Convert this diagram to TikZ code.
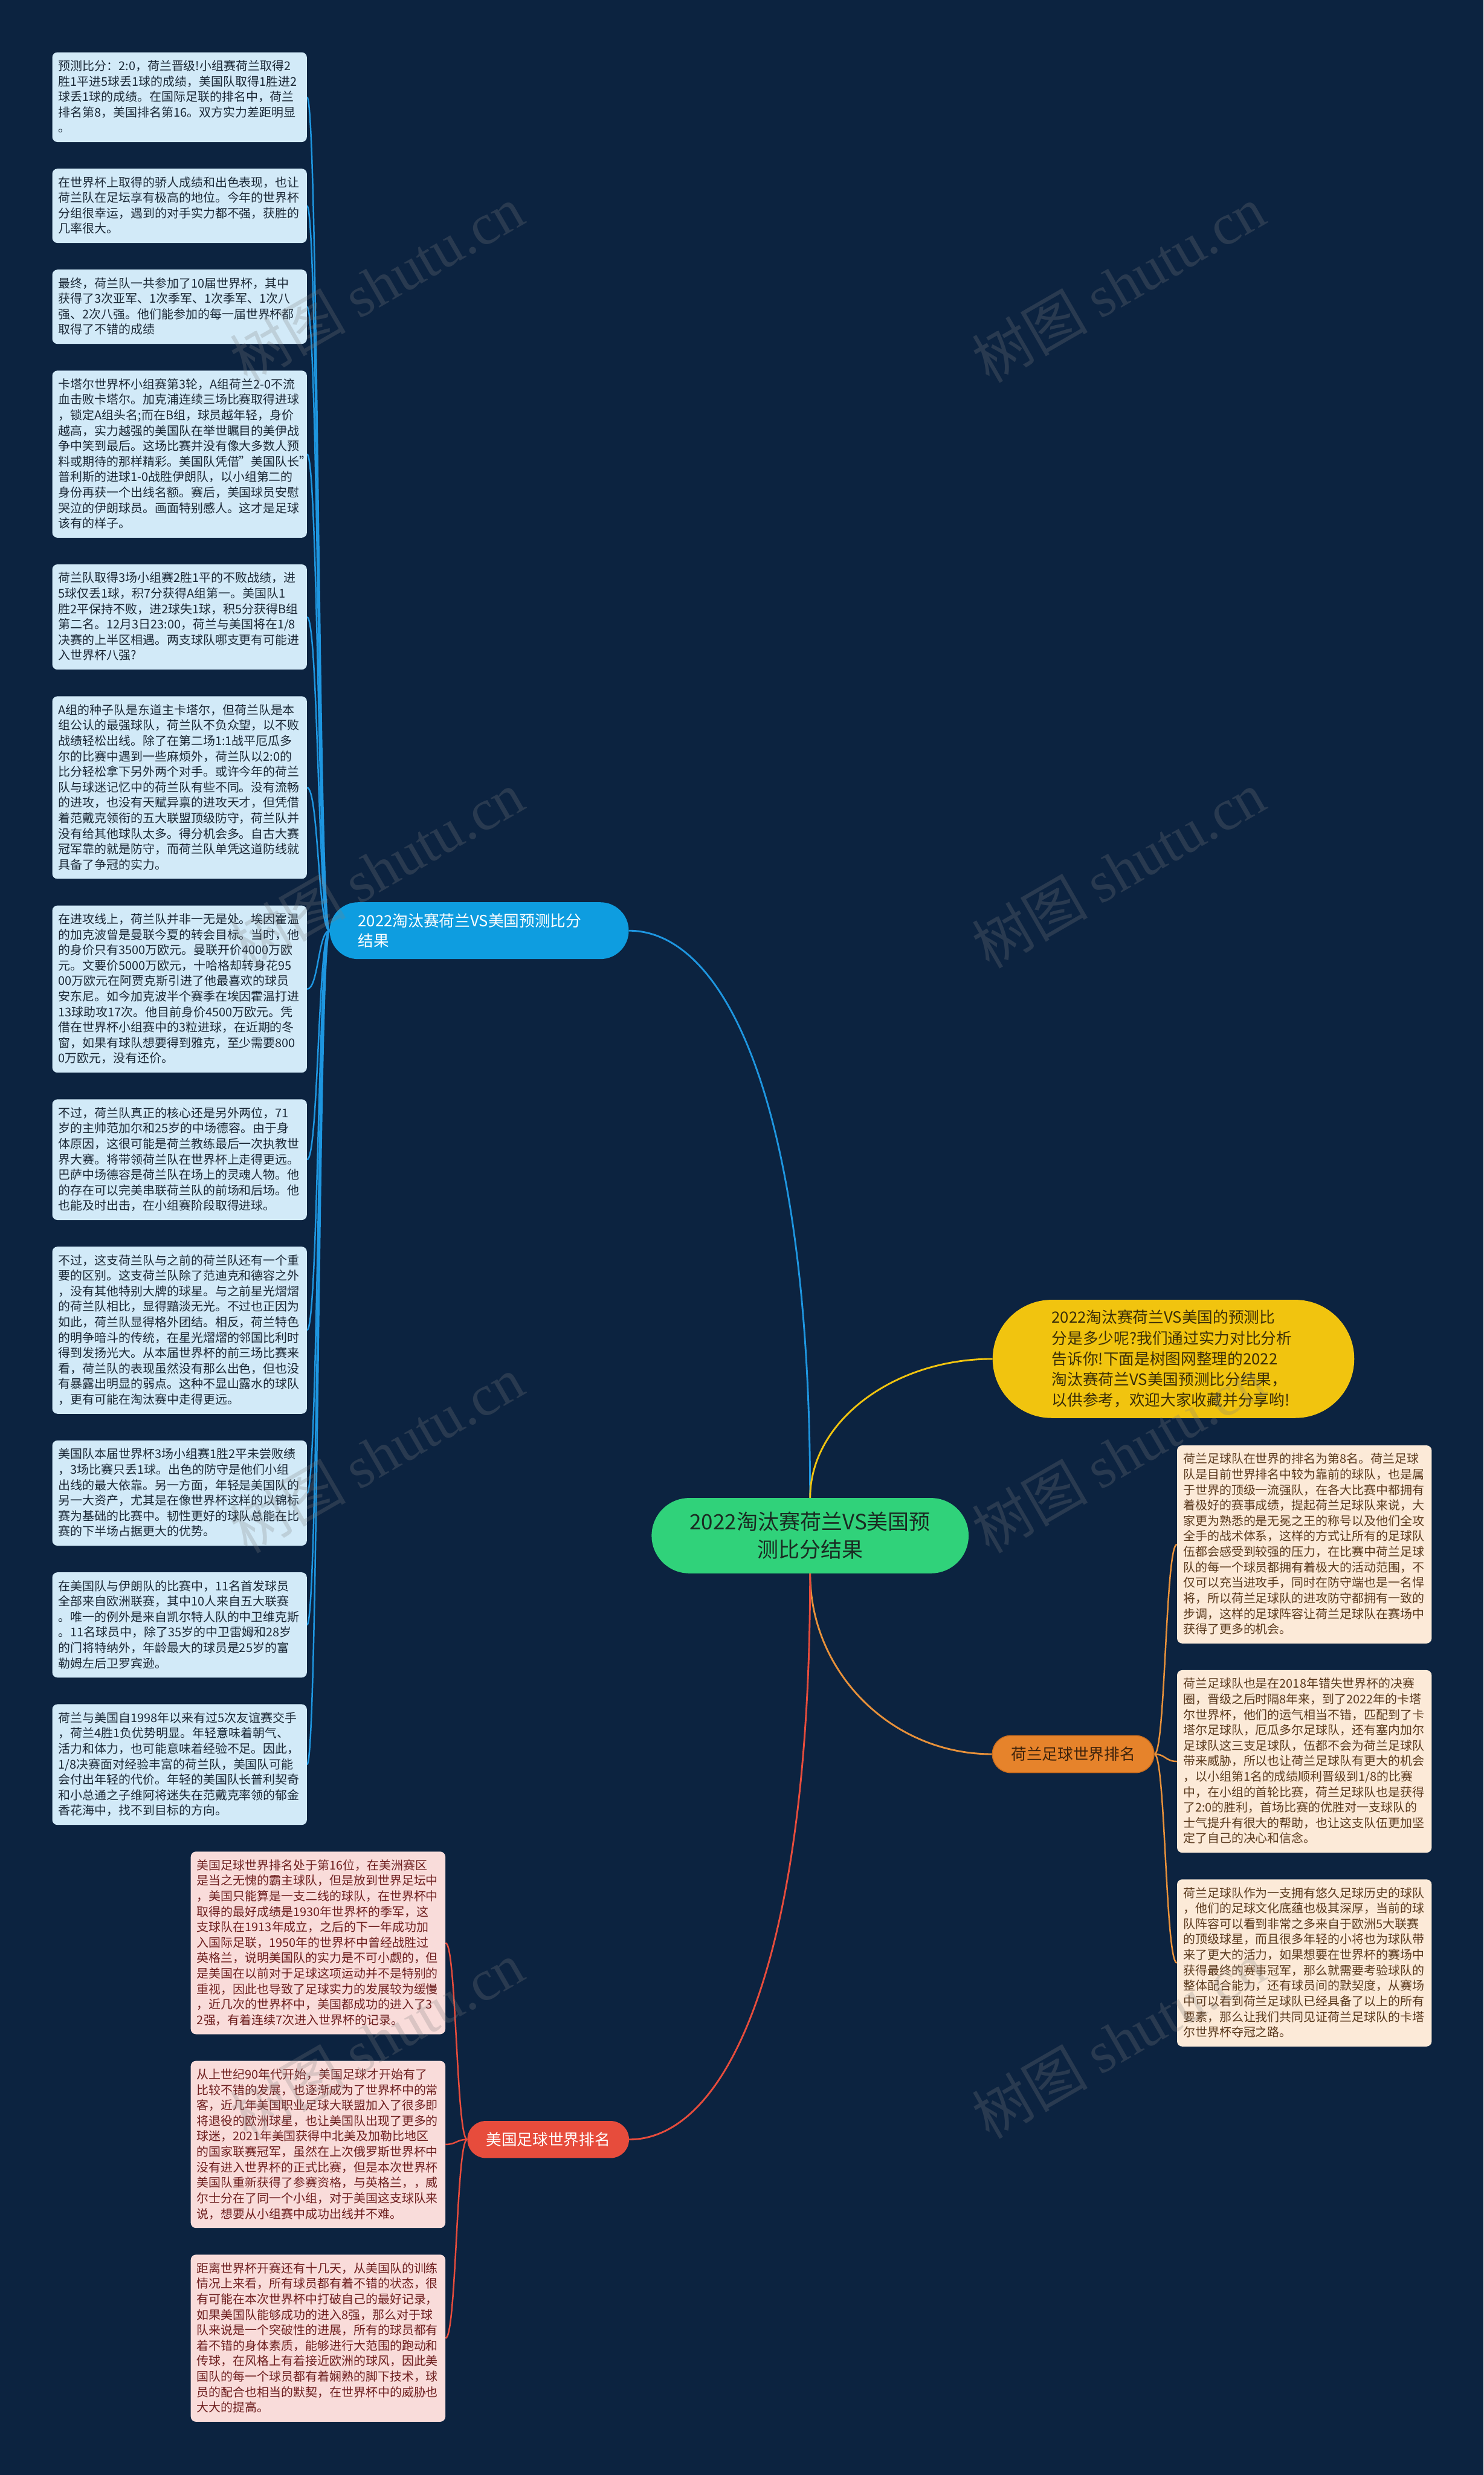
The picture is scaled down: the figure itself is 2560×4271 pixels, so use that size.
\documentclass[tikz,border=0pt]{standalone}
\usepackage{fontspec}
\setmainfont{Noto Sans CJK SC}
\newfontfamily\wmlatin{Liberation Serif}
\usetikzlibrary{calc}
\definecolor{bgc}{HTML}{0C2340}
\definecolor{cgreen}{HTML}{30D27A}
\definecolor{cgreentext}{HTML}{1A2B22}
\definecolor{cblue}{HTML}{0E9DE0}
\definecolor{cblueline}{HTML}{1E96E0}
\definecolor{cyellow}{HTML}{F1C40F}
\definecolor{cyellowtext}{HTML}{3A2E08}
\definecolor{corange}{HTML}{E6832B}
\definecolor{corangeline}{HTML}{E8913A}
\definecolor{corangetext}{HTML}{3E230C}
\definecolor{corangeborder}{HTML}{C96C1E}
\definecolor{cred}{HTML}{E74C3C}
\definecolor{lbfill}{HTML}{D2EAF8}
\definecolor{lbtext}{HTML}{1B2836}
\definecolor{rbfill}{HTML}{FCEAD8}
\definecolor{rbtext}{HTML}{5B3A1E}
\definecolor{pbfill}{HTML}{F9DCDA}
\definecolor{pbtext}{HTML}{6E1F1F}
\definecolor{wmgray}{HTML}{808080}
\newcommand\mystrut{\rule[-6.2pt]{0pt}{26.7pt}}
\pgfdeclarelayer{bglayer}
\pgfdeclarelayer{linelayer}
\pgfdeclarelayer{wmlayer}
\pgfsetlayers{bglayer,linelayer,main,wmlayer}
\begin{document}
\begin{tikzpicture}[x=1pt,y=-1pt,
  leaf/.style={rectangle, rounded corners=9pt, inner sep=10.7pt, text width=418pt, align=left, anchor=north west, font=\fontsize{20.8}{26.7}\selectfont},
  lbox/.style={leaf, fill=lbfill, text=lbtext},
  rbox/.style={leaf, fill=rbfill, text=rbtext},
  pbox/.style={leaf, fill=pbfill, text=pbtext},
  topicnode/.style={rectangle, rounded corners=64.9pt, fill=cgreen, text=cgreentext, minimum width=547pt, minimum height=130pt, inner sep=0pt, align=center, font=\fontsize{36.5}{48}\selectfont},
  bluenode/.style={rectangle, rounded corners=48.9pt, fill=cblue, text=white, minimum height=98pt, inner xsep=49pt, inner ysep=0pt, text width=418pt, align=left, font=\fontsize{26.8}{35}\selectfont},
  yellownode/.style={rectangle, rounded corners=101.9pt, fill=cyellow, text=cyellowtext, minimum height=204pt, inner xsep=102pt, inner ysep=0pt, text width=420pt, align=left, font=\fontsize{26.8}{35.7}\selectfont},
  orangenode/.style={rectangle, rounded corners=31.9pt, fill=corange, draw=corangeborder, line width=1.5pt, text=corangetext, minimum width=279pt, minimum height=64pt, inner sep=0pt, align=center, font=\fontsize{26.8}{35}\selectfont},
  rednode/.style={rectangle, rounded corners=31.9pt, fill=cred, text=white, minimum width=279pt, minimum height=64pt, inner sep=0pt, align=center, font=\fontsize{26.8}{35}\selectfont},
  mainline/.style={line width=3pt},
  subline/.style={line width=2.6pt},
  wm/.style={rotate=30, text=wmgray, text opacity=0.25, font=\fontsize{100}{100}\selectfont}
]
\begin{pgfonlayer}{bglayer}
\fill[bgc] (0,0) rectangle (2560,4271);
\end{pgfonlayer}
\useasboundingbox (0,0) rectangle (2560,4271);

% central and level-1 nodes
\node[topicnode] (c) at (1398,2650) {2022淘汰赛荷兰VS美国预\\测比分结果};
\node[yellownode] (y) at (2025,2345) {2022淘汰赛荷兰VS美国的预测比\\分是多少呢?我们通过实力对比分析\\告诉你!下面是树图网整理的2022\\淘汰赛荷兰VS美国预测比分结果，\\以供参考，欢迎大家收藏并分享哟!};
\node[bluenode] (bn) at (827,1606) {2022淘汰赛荷兰VS美国预测比分\\结果};
\node[orangenode] (o) at (1852,3027) {荷兰足球世界排名};
\node[rednode] (r) at (946,3692) {美国足球世界排名};

% left column
\node[lbox] (L1) at (90,90) {\mystrut 预测比分：2:0，荷兰晋级!小组赛荷兰取得2\\胜1平进5球丢1球的成绩，美国队取得1胜进2\\球丢1球的成绩。在国际足联的排名中，荷兰\\排名第8，美国排名第16。双方实力差距明显\\。\mystrut};
\node[lbox] (L2) at (90,290.9) {\mystrut 在世界杯上取得的骄人成绩和出色表现，也让\\荷兰队在足坛享有极高的地位。今年的世界杯\\分组很幸运，遇到的对手实力都不强，获胜的\\几率很大。\mystrut};
\node[lbox] (L3) at (90,465.1) {\mystrut 最终，荷兰队一共参加了10届世界杯，其中\\获得了3次亚军、1次季军、1次季军、1次八\\强、2次八强。他们能参加的每一届世界杯都\\取得了不错的成绩\mystrut};
\node[lbox] (L4) at (90,639.3) {\mystrut 卡塔尔世界杯小组赛第3轮，A组荷兰2-0不流\\血击败卡塔尔。加克浦连续三场比赛取得进球\\，锁定A组头名;而在B组，球员越年轻，身价\\越高，实力越强的美国队在举世瞩目的美伊战\\争中笑到最后。这场比赛并没有像大多数人预\\料或期待的那样精彩。美国队凭借"美国队长"\\普利斯的进球1-0战胜伊朗队，以小组第二的\\身份再获一个出线名额。赛后，美国球员安慰\\哭泣的伊朗球员。画面特别感人。这才是足球\\该有的样子。\mystrut};
\node[lbox] (L5) at (90,973.7) {\mystrut 荷兰队取得3场小组赛2胜1平的不败战绩，进\\5球仅丢1球，积7分获得A组第一。美国队1\\胜2平保持不败，进2球失1球，积5分获得B组\\第二名。12月3日23:00，荷兰与美国将在1/8\\决赛的上半区相遇。两支球队哪支更有可能进\\入世界杯八强?\mystrut};
\node[lbox] (L6) at (90,1201.3) {\mystrut A组的种子队是东道主卡塔尔，但荷兰队是本\\组公认的最强球队，荷兰队不负众望，以不败\\战绩轻松出线。除了在第二场1:1战平厄瓜多\\尔的比赛中遇到一些麻烦外，荷兰队以2:0的\\比分轻松拿下另外两个对手。或许今年的荷兰\\队与球迷记忆中的荷兰队有些不同。没有流畅\\的进攻，也没有天赋异禀的进攻天才，但凭借\\着范戴克领衔的五大联盟顶级防守，荷兰队并\\没有给其他球队太多。得分机会多。自古大赛\\冠军靠的就是防守，而荷兰队单凭这道防线就\\具备了争冠的实力。\mystrut};
\node[lbox] (L7) at (90,1562.4) {\mystrut 在进攻线上，荷兰队并非一无是处。埃因霍温\\的加克波曾是曼联今夏的转会目标。当时，他\\的身价只有3500万欧元。曼联开价4000万欧\\元。文要价5000万欧元，十哈格却转身花95\\00万欧元在阿贾克斯引进了他最喜欢的球员\\安东尼。如今加克波半个赛季在埃因霍温打进\\13球助攻17次。他目前身价4500万欧元。凭\\借在世界杯小组赛中的3粒进球，在近期的冬\\窗，如果有球队想要得到雅克，至少需要800\\0万欧元，没有还价。\mystrut};
\node[lbox] (L8) at (90,1896.8) {\mystrut 不过，荷兰队真正的核心还是另外两位，71\\岁的主帅范加尔和25岁的中场德容。由于身\\体原因，这很可能是荷兰教练最后一次执教世\\界大赛。将带领荷兰队在世界杯上走得更远。\\巴萨中场德容是荷兰队在场上的灵魂人物。他\\的存在可以完美串联荷兰队的前场和后场。他\\也能及时出击，在小组赛阶段取得进球。\mystrut};
\node[lbox] (L9) at (90,2151.1) {\mystrut 不过，这支荷兰队与之前的荷兰队还有一个重\\要的区别。这支荷兰队除了范迪克和德容之外\\，没有其他特别大牌的球星。与之前星光熠熠\\的荷兰队相比，显得黯淡无光。不过也正因为\\如此，荷兰队显得格外团结。相反，荷兰特色\\的明争暗斗的传统，在星光熠熠的邻国比利时\\得到发扬光大。从本届世界杯的前三场比赛来\\看，荷兰队的表现虽然没有那么出色，但也没\\有暴露出明显的弱点。这种不显山露水的球队\\，更有可能在淘汰赛中走得更远。\mystrut};
\node[lbox] (L10) at (90,2485.5) {\mystrut 美国队本届世界杯3场小组赛1胜2平未尝败绩\\，3场比赛只丢1球。出色的防守是他们小组\\出线的最大依靠。另一方面，年轻是美国队的\\另一大资产，尤其是在像世界杯这样的以锦标\\赛为基础的比赛中。韧性更好的球队总能在比\\赛的下半场占据更大的优势。\mystrut};
\node[lbox] (L11) at (90,2713.1) {\mystrut 在美国队与伊朗队的比赛中，11名首发球员\\全部来自欧洲联赛，其中10人来自五大联赛\\。唯一的例外是来自凯尔特人队的中卫维克斯\\。11名球员中，除了35岁的中卫雷姆和28岁\\的门将特纳外，年龄最大的球员是25岁的富\\勒姆左后卫罗宾逊。\mystrut};
\node[lbox] (L12) at (90,2940.7) {\mystrut 荷兰与美国自1998年以来有过5次友谊赛交手\\，荷兰4胜1负优势明显。年轻意味着朝气、\\活力和体力，也可能意味着经验不足。因此，\\1/8决赛面对经验丰富的荷兰队，美国队可能\\会付出年轻的代价。年轻的美国队长普利契奇\\和小总通之子维阿将迷失在范戴克率领的郁金\\香花海中，找不到目标的方向。\mystrut};

% right column
\node[rbox] (R1) at (2031,2494) {\mystrut 荷兰足球队在世界的排名为第8名。荷兰足球\\队是目前世界排名中较为靠前的球队，也是属\\于世界的顶级一流强队，在各大比赛中都拥有\\着极好的赛事成绩，提起荷兰足球队来说，大\\家更为熟悉的是无冕之王的称号以及他们全攻\\全手的战术体系，这样的方式让所有的足球队\\伍都会感受到较强的压力，在比赛中荷兰足球\\队的每一个球员都拥有着极大的活动范围，不\\仅可以充当进攻手，同时在防守端也是一名悍\\将，所以荷兰足球队的进攻防守都拥有一致的\\步调，这样的足球阵容让荷兰足球队在赛场中\\获得了更多的机会。\mystrut};
\node[rbox] (R2) at (2031,2881.8) {\mystrut 荷兰足球队也是在2018年错失世界杯的决赛\\圈，晋级之后时隔8年来，到了2022年的卡塔\\尔世界杯，他们的运气相当不错，匹配到了卡\\塔尔足球队，厄瓜多尔足球队，还有塞内加尔\\足球队这三支足球队，伍都不会为荷兰足球队\\带来威胁，所以也让荷兰足球队有更大的机会\\，以小组第1名的成绩顺利晋级到1/8的比赛\\中，在小组的首轮比赛，荷兰足球队也是获得\\了2:0的胜利，首场比赛的优胜对一支球队的\\士气提升有很大的帮助，也让这支队伍更加坚\\定了自己的决心和信念。\mystrut};
\node[rbox] (R3) at (2031,3242.9) {\mystrut 荷兰足球队作为一支拥有悠久足球历史的球队\\，他们的足球文化底蕴也极其深厚，当前的球\\队阵容可以看到非常之多来自于欧洲5大联赛\\的顶级球星，而且很多年轻的小将也为球队带\\来了更大的活力，如果想要在世界杯的赛场中\\获得最终的赛事冠军，那么就需要考验球队的\\整体配合能力，还有球员间的默契度，从赛场\\中可以看到荷兰足球队已经具备了以上的所有\\要素，那么让我们共同见证荷兰足球队的卡塔\\尔世界杯夺冠之路。\mystrut};

% bottom column
\node[pbox] (P1) at (329,3195) {\mystrut 美国足球世界排名处于第16位，在美洲赛区\\是当之无愧的霸主球队，但是放到世界足坛中\\，美国只能算是一支二线的球队，在世界杯中\\取得的最好成绩是1930年世界杯的季军，这\\支球队在1913年成立，之后的下一年成功加\\入国际足联，1950年的世界杯中曾经战胜过\\英格兰，说明美国队的实力是不可小觑的，但\\是美国在以前对于足球这项运动并不是特别的\\重视，因此也导致了足球实力的发展较为缓慢\\，近几次的世界杯中，美国都成功的进入了3\\2强，有着连续7次进入世界杯的记录。\mystrut};
\node[pbox] (P2) at (329,3556.1) {\mystrut 从上世纪90年代开始，美国足球才开始有了\\比较不错的发展，也逐渐成为了世界杯中的常\\客，近几年美国职业足球大联盟加入了很多即\\将退役的欧洲球星，也让美国队出现了更多的\\球迷，2021年美国获得中北美及加勒比地区\\的国家联赛冠军，虽然在上次俄罗斯世界杯中\\没有进入世界杯的正式比赛，但是本次世界杯\\美国队重新获得了参赛资格，与英格兰，，威\\尔士分在了同一个小组，对于美国这支球队来\\说，想要从小组赛中成功出线并不难。\mystrut};
\node[pbox] (P3) at (329,3890.5) {\mystrut 距离世界杯开赛还有十几天，从美国队的训练\\情况上来看，所有球员都有着不错的状态，很\\有可能在本次世界杯中打破自己的最好记录，\\如果美国队能够成功的进入8强，那么对于球\\队来说是一个突破性的进展，所有的球员都有\\着不错的身体素质，能够进行大范围的跑动和\\传球，在风格上有着接近欧洲的球风，因此美\\国队的每一个球员都有着娴熟的脚下技术，球\\员的配合也相当的默契，在世界杯中的威胁也\\大大的提高。\mystrut};

% connectors
\begin{pgfonlayer}{linelayer}
\draw[mainline, cblueline] (c.north) .. controls +(0,-684) and +(165,0) .. (bn.east);
\draw[mainline, cyellow] (c.north) .. controls +(0,-132) and +(-171,0) .. (y.west);
\draw[mainline, corangeline] (c.south) .. controls +(0,171) and +(-173,0) .. (o.west);
\draw[mainline, cred] (c.south) .. controls +(0,680) and +(165,0) .. (r.east);
\foreach \i in {1,...,12}
  \draw[subline, cblueline] (bn.west) .. controls +(-20,0) and +(20,0) .. (L\i.east);
\foreach \i in {1,2,3}
  \draw[subline, corangeline] (o.east) .. controls +(19,0) and +(-20,0) .. (R\i.west);
\foreach \i in {1,2,3}
  \draw[subline, cred] (r.west) .. controls +(-19,0) and +(19,0) .. (P\i.east);
\end{pgfonlayer}

% watermark
\begin{pgfonlayer}{wmlayer}
\foreach \wx/\wy [count=\k] in {650/490, 1930/490, 650/1500, 1930/1500, 650/2510, 1930/2510, 650/3520, 1930/3520}
  \node[wm] (wm\k) at (\wx,\wy) {树图 {\wmlatin shutu.cn}};
\end{pgfonlayer}
\end{tikzpicture}
\end{document}
